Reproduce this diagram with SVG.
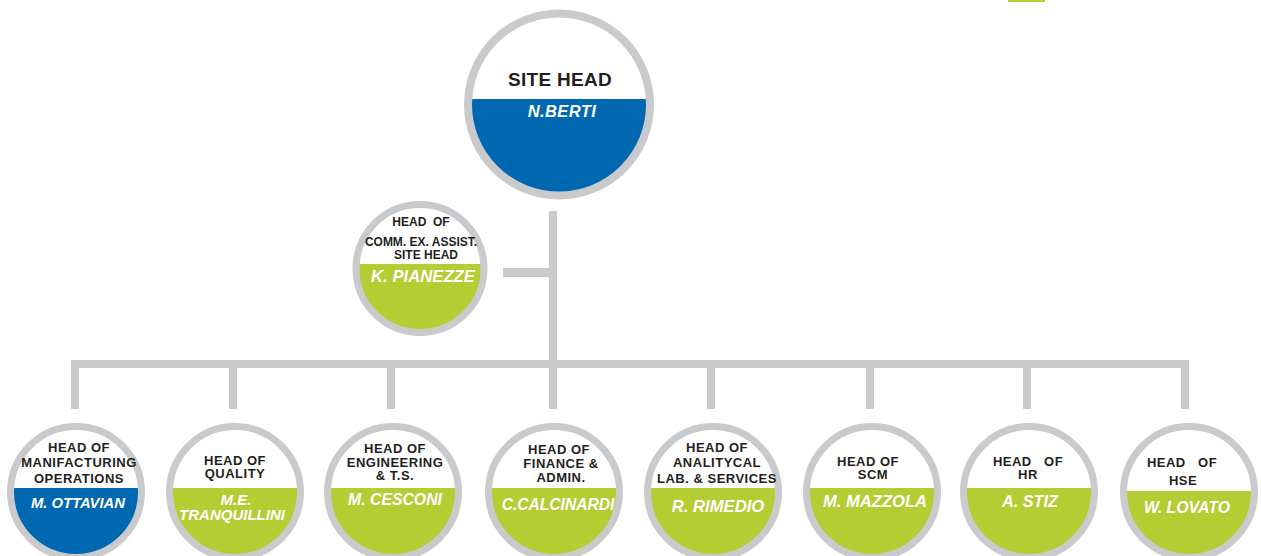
<svg xmlns="http://www.w3.org/2000/svg" width="1261" height="556" viewBox="0 0 1261 556">
<style>
.bg{fill:#ffffff}
.ring{fill:none;stroke:#c9cacc;stroke-width:7}
.ringL{fill:none;stroke:#c9cacc;stroke-width:8}
.blue{fill:#0067b1}
.green{fill:#b3cd33}
.disk{fill:#ffffff}
.conn{fill:#c9cacc}
.t{font-family:"Liberation Sans",Arial,sans-serif;font-weight:bold;font-size:13px;fill:#231f20;text-anchor:middle;letter-spacing:0.5px}
.ts{font-family:"Liberation Sans",Arial,sans-serif;font-weight:bold;font-size:12px;fill:#231f20;text-anchor:middle}
.n{font-family:"Liberation Sans",Arial,sans-serif;font-weight:bold;font-style:italic;font-size:16px;fill:#ffffff;text-anchor:middle}
</style>
<rect class="bg" x="0" y="0" width="1261" height="556"/>
<rect x="1008" y="0" width="37" height="2" fill="#b3cd33"/>

<g id="connectors">
  <rect class="conn" x="549" y="211" width="8" height="198"/>
  <rect class="conn" x="503" y="268" width="46" height="9"/>
  <rect class="conn" x="71" y="360" width="1118" height="8"/>
  <rect class="conn" x="71" y="360" width="8" height="49"/>
  <rect class="conn" x="229" y="360" width="8" height="49"/>
  <rect class="conn" x="387" y="360" width="8" height="49"/>
  <rect class="conn" x="707" y="360" width="8" height="49"/>
  <rect class="conn" x="866" y="360" width="8" height="49"/>
  <rect class="conn" x="1023" y="360" width="8" height="49"/>
  <rect class="conn" x="1181" y="360" width="8" height="49"/>
</g>

<g id="site-head">
  <circle class="disk" cx="559" cy="104.5" r="91"/>
  <path class="blue" d="M468.17 99 L649.83 99 A91 91 0 1 1 468.17 99 Z"/>
  <circle class="ringL" cx="559" cy="104.5" r="91"/>
  <text class="t" x="560" y="86" style="font-size:19px;letter-spacing:0.3px">SITE HEAD</text>
  <text class="n" x="562" y="117" style="font-size:16.5px;letter-spacing:0.4px">N.BERTI</text>
</g>

<g id="comm-ex">
  <circle class="disk" cx="420" cy="268.5" r="64"/>
  <path class="green" d="M356.16 264 L483.84 264 A64 64 0 1 1 356.16 264 Z"/>
  <circle class="ring" cx="420" cy="268.5" r="64"/>
  <text class="ts" x="421" y="226" xml:space="preserve">HEAD  OF</text>
  <text class="ts" x="421" y="246">COMM. EX. ASSIST.</text>
  <text class="ts" x="426" y="259">SITE HEAD</text>
  <text class="n" x="423" y="282" style="font-size:16.7px">K. PIANEZZE</text>
</g>

<g id="manufacturing">
  <circle class="disk" cx="76" cy="492" r="65.5"/>
  <path class="blue" d="M10.62 488 L141.38 488 A65.5 65.5 0 1 1 10.62 488 Z"/>
  <circle class="ring" cx="76" cy="492" r="65.5"/>
  <text class="t" x="79" y="452">HEAD OF</text>
  <text class="t" x="79" y="467">MANIFACTURING</text>
  <text class="t" x="79" y="483">OPERATIONS</text>
  <text class="n" x="78" y="508" style="font-size:14.8px">M. OTTAVIAN</text>
</g>

<g id="quality">
  <circle class="disk" cx="235" cy="492" r="65.5"/>
  <path class="green" d="M169.62 488 L300.38 488 A65.5 65.5 0 1 1 169.62 488 Z"/>
  <circle class="ring" cx="235" cy="492" r="65.5"/>
  <text class="t" x="235" y="465">HEAD OF</text>
  <text class="t" x="235" y="478">QUALITY</text>
  <text class="n" x="236" y="505" style="font-size:15px">M.E.</text>
  <text class="n" x="232" y="520" style="font-size:15px">TRANQUILLINI</text>
</g>

<g id="engineering">
  <circle class="disk" cx="393" cy="492" r="65.5"/>
  <path class="green" d="M327.62 488 L458.38 488 A65.5 65.5 0 1 1 327.62 488 Z"/>
  <circle class="ring" cx="393" cy="492" r="65.5"/>
  <text class="t" x="395" y="453">HEAD OF</text>
  <text class="t" x="395" y="467">ENGINEERING</text>
  <text class="t" x="395" y="480">&amp; T.S.</text>
  <text class="n" x="395" y="505" style="font-size:15.8px">M. CESCONI</text>
</g>

<g id="finance">
  <circle class="disk" cx="554" cy="492" r="65.5"/>
  <path class="green" d="M488.62 488 L619.38 488 A65.5 65.5 0 1 1 488.62 488 Z"/>
  <circle class="ring" cx="554" cy="492" r="65.5"/>
  <text class="t" x="559" y="454">HEAD OF</text>
  <text class="t" x="561" y="468">FINANCE &amp;</text>
  <text class="t" x="561" y="482">ADMIN.</text>
  <text class="n" x="558" y="510" style="font-size:15.6px">C.CALCINARDI</text>
</g>

<g id="lab-services">
  <circle class="disk" cx="713" cy="492" r="65.5"/>
  <path class="green" d="M647.62 488 L778.38 488 A65.5 65.5 0 1 1 647.62 488 Z"/>
  <circle class="ring" cx="713" cy="492" r="65.5"/>
  <text class="t" x="717" y="452">HEAD OF</text>
  <text class="t" x="717" y="467">ANALITYCAL</text>
  <text class="t" x="717" y="483">LAB. &amp; SERVICES</text>
  <text class="n" x="718" y="512" style="font-size:16.7px">R. RIMEDIO</text>
</g>

<g id="scm">
  <circle class="disk" cx="872" cy="492" r="65.5"/>
  <path class="green" d="M806.62 488 L937.38 488 A65.5 65.5 0 1 1 806.62 488 Z"/>
  <circle class="ring" cx="872" cy="492" r="65.5"/>
  <text class="t" x="868" y="466">HEAD OF</text>
  <text class="t" x="873" y="479">SCM</text>
  <text class="n" x="875" y="507" style="font-size:16.6px">M. MAZZOLA</text>
</g>

<g id="hr">
  <circle class="disk" cx="1029" cy="492" r="65.5"/>
  <path class="green" d="M963.62 488 L1094.38 488 A65.5 65.5 0 1 1 963.62 488 Z"/>
  <circle class="ring" cx="1029" cy="492" r="65.5"/>
  <text class="t" x="1028" y="466" xml:space="preserve">HEAD   OF</text>
  <text class="t" x="1028" y="479">HR</text>
  <text class="n" x="1030" y="507" style="font-size:16.3px">A. STIZ</text>
</g>

<g id="hse">
  <circle class="disk" cx="1189" cy="492" r="65.5"/>
  <path class="green" d="M1123.51 491 L1254.49 491 A65.5 65.5 0 1 1 1123.51 491 Z"/>
  <circle class="ring" cx="1189" cy="492" r="65.5"/>
  <text class="t" x="1182" y="467" xml:space="preserve">HEAD   OF</text>
  <text class="t" x="1183" y="485">HSE</text>
  <text class="n" x="1187" y="513" style="font-size:15.9px">W. LOVATO</text>
</g>
</svg>
